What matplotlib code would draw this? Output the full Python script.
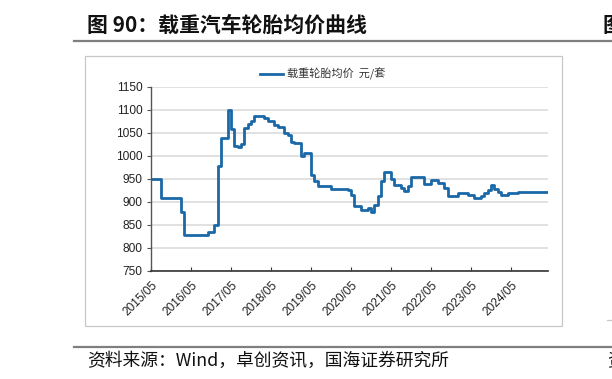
import numpy as np
import matplotlib.pyplot as plt
from matplotlib.patches import Rectangle
from matplotlib.lines import Line2D

plt.rcParams['font.family'] = ['Noto Sans CJK SC', 'DejaVu Sans']

# Monthly average price of truck tyres, starting 2015/05 (yuan per set)
price = [950, 950, 950, 907, 907, 907, 907, 907, 907, 878,
         828, 828, 828, 828, 828, 828, 828, 835, 835, 850,
         978, 1038, 1038, 1100, 1057, 1022, 1020, 1025, 1060, 1068,
         1075, 1087, 1087, 1087, 1082, 1076, 1076, 1067, 1062, 1062,
         1050, 1046, 1030, 1027, 1027, 1000, 1005, 1005, 958, 944,
         934, 934, 934, 934, 928, 928, 928, 928, 928, 925,
         914, 891, 891, 883, 883, 886, 878, 893, 912, 944,
         965, 965, 950, 936, 936, 930, 924, 934, 953, 954,
         954, 954, 938, 938, 948, 948, 940, 940, 929, 913,
         913, 913, 920, 919, 918, 915, 914, 909, 909, 912,
         920, 925, 936, 927, 922, 915, 915, 918, 918, 918,
         921, 921, 921, 921, 921, 921, 921, 921, 921, 921]
tick_labels = ['2015/05', '2016/05', '2017/05', '2018/05', '2019/05',
               '2020/05', '2021/05', '2022/05', '2023/05', '2024/05']
y_ticks = [750, 800, 850, 900, 950, 1000, 1050, 1100, 1150]

title = '图 90：载重汽车轮胎均价曲线'
series_name = '载重轮胎均价  元/套'
source = '资料来源：Wind，卓创资讯，国海证券研究所'

W, H = 612, 379
fig = plt.figure(figsize=(W / 100, H / 100), dpi=100)

def fx(px):
    return px / W

def fy(py):
    return 1 - py / H

line_color = '#1a68a8'
num_font = ['Liberation Sans', 'DejaVu Sans']

# page decorations (the neighbouring figure is cut off at the right edge)
fig.text(fx(87), fy(25), title, fontsize=15, fontweight='bold',
         va='center', ha='left', color='#111111')
fig.text(fx(603), fy(25), '图', fontsize=15, fontweight='bold',
         va='center', ha='left', color='#111111')
fig.add_artist(Line2D([fx(74), 1], [fy(40.7), fy(40.7)], color='#7f7f7f', lw=1.6))
fig.add_artist(Line2D([fx(74), 1], [fy(346.6), fy(346.6)], color='#7f7f7f', lw=1.6))
fig.add_artist(Rectangle((fx(85), fy(326)), fx(562) - fx(85), fy(56) - fy(326),
                         fill=False, edgecolor='#c8c8c8', lw=0.9))
fig.add_artist(Line2D([fx(607), 1], [fy(320), fy(320)], color='#c8c8c8', lw=0.9))
fig.text(fx(87), fy(361), source, fontsize=12.8, va='center', ha='left', color='#111111')
fig.text(fx(607), fy(361), '资', fontsize=12.8, va='center', ha='left', color='#111111')

# chart
ax = fig.add_axes([fx(151), fy(270.7), fx(548) - fx(151), fy(86.7) - fy(270.7)])
x = np.arange(len(price))
ax.step(x, price, where='post', color=line_color, lw=2.0, label=series_name)

ax.set_xlim(0, 119.1)
ax.set_ylim(750, 1150)
ax.set_yticks(y_ticks)
ax.set_yticklabels([str(v) for v in y_ticks], fontfamily=num_font, fontsize=8.6, color='#222222')
ax.set_xticks(np.arange(len(tick_labels)) * 12)
ax.set_xticklabels(tick_labels, rotation=45, ha='right', va='top',
                   rotation_mode='anchor', fontfamily=num_font, fontsize=8.6, color='#222222')

ax.grid(axis='y', color='#d9d9d9', lw=1.1)
ax.set_axisbelow(True)
for s in ['top', 'right']:
    ax.spines[s].set_visible(False)
ax.spines['left'].set_color('#555555')
ax.spines['bottom'].set_color('#333333')
ax.spines['left'].set_linewidth(1.0)
ax.spines['bottom'].set_linewidth(1.2)
ax.tick_params(axis='y', direction='out', length=3, width=0.8, pad=3, colors='#555555',
               labelcolor='#222222')
ax.tick_params(axis='x', direction='in', length=3, width=0.8, pad=6, colors='#333333',
               labelcolor='#222222')

fig.legend(loc='center', bbox_to_anchor=(fx(323), fy(74)), frameon=False,
           fontsize=8, handlelength=2.0, handletextpad=0.4, labelcolor='#333333')

fig.savefig('out.png', dpi=100)
